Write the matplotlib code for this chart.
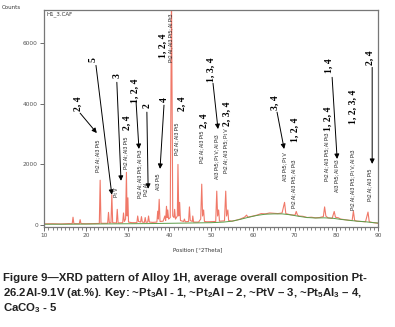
import matplotlib
matplotlib.use('Agg')
import matplotlib.pyplot as plt
from matplotlib.ticker import MultipleLocator

plt.rcParams['mathtext.fontset'] = 'custom'
plt.rcParams['mathtext.rm'] = 'Liberation Sans:bold'
plt.rcParams['mathtext.it'] = 'Liberation Sans:bold:italic'
plt.rcParams['mathtext.bf'] = 'Liberation Sans:bold'

# ---- measured pattern (2theta, counts) ----
two_theta = [10.0, 12.0, 14.0, 16.0, 16.7, 16.9, 17.1, 18.4, 18.6, 18.8, 20.0, 22.0,
             23.2, 23.4, 23.6, 25.2, 25.4, 25.6, 26.0, 26.2, 26.4, 27.3, 27.5, 27.7,
             28.8, 29.0, 29.2, 29.5, 29.7, 29.85, 30.05, 30.2, 31.0, 32.2, 32.4, 32.6,
             33.1, 33.3, 33.5, 34.0, 34.2, 34.4, 34.8, 35.0, 35.2, 36.0, 37.0, 37.2,
             37.35, 37.55, 37.75, 38.5, 38.9, 39.1, 39.3, 39.45, 39.6, 39.8, 40.2, 40.5,
             40.8, 41.1, 41.25, 41.45, 41.9, 42.05, 42.25, 42.45, 42.65, 43.4, 43.6, 43.8,
             44.6, 44.8, 45.0, 45.5, 45.6, 45.8, 47.0, 47.5, 47.75, 47.95, 48.2, 48.4,
             49.0, 51.1, 51.35, 51.55, 51.8, 52.0, 53.2, 53.5, 53.7, 54.0, 54.2, 55.0,
             56.0, 57.0, 58.0, 58.5, 58.8, 60.0, 61.0, 62.0, 63.0, 64.0, 65.0, 66.0,
             67.0, 67.6, 67.9, 68.5, 69.0, 70.1, 70.4, 70.7, 71.0, 72.0, 73.0, 74.0,
             75.0, 76.0, 76.9, 77.2, 77.5, 78.0, 79.0, 79.5, 79.8, 80.5, 81.0, 82.0,
             83.0, 83.8, 84.1, 84.4, 85.0, 86.0, 87.0, 87.6, 87.9, 88.5, 89.5, 90.0]
counts = [40, 45, 38, 50, 45, 260, 50, 45, 180, 50, 45, 50,
          55, 1480, 60, 60, 420, 70, 80, 1000, 80, 70, 520, 70,
          80, 400, 120, 200, 1740, 300, 900, 100, 80, 80, 300, 120,
          100, 280, 100, 90, 250, 90, 100, 300, 100, 90, 100, 460,
          200, 850, 120, 130, 300, 150, 620, 250, 500, 200, 250, 7600,
          300, 250, 520, 200, 300, 2000, 300, 750, 150, 120, 200, 110,
          120, 600, 150, 120, 300, 100, 100, 200, 1350, 300, 500, 120,
          110, 120, 1120, 300, 500, 130, 140, 1120, 300, 500, 150, 130,
          160, 200, 260, 330, 260, 300, 330, 380, 370, 400, 390, 380,
          400, 750, 380, 360, 340, 330, 450, 330, 300, 290, 250, 260,
          240, 250, 280, 600, 300, 240, 220, 450, 260, 240, 200, 180,
          160, 150, 460, 150, 130, 120, 110, 430, 110, 90, 70, 60]

# ---- fitted background ----
bg_theta = [10, 15, 20, 25, 30, 35, 40, 45, 50, 53, 55, 57, 59, 61, 63, 65, 67, 69,
            71, 73, 75, 77, 79, 81, 83, 85, 87, 89, 90]
bg_counts = [30, 30, 35, 40, 45, 50, 60, 70, 80, 100, 130, 190, 260, 320, 360, 370, 370,
             340, 290, 250, 235, 240, 230, 190, 160, 130, 110, 80, 70]

# ---- arrowed labels: text, text position, arrow start, arrow tip ----
arrow_labels = ['2, 4', '5', '3', '1, 2, 4', '2', '4', '1, 3, 4', '3, 4', '1, 4', '2, 4']
arrow_text_xy = [(18.1, 3985), (21.7, 5461), (27.4, 4936), (31.8, 4412), (34.6, 3953),
                 (38.9, 4149), (50.0, 5133), (65.3, 4051), (78.3, 5264), (88.1, 5527)]
arrow_start = [(18.6, 3690), (22.4, 5264), (27.4, 4707), (32.0, 4084), (34.6, 3723),
               (38.7, 3953), (50.45, 4674), (65.8, 3723), (79.0, 4871), (88.6, 5199)]
arrow_tip = [(22.6, 3034), (26.2, 1000), (28.4, 1460), (32.7, 2509), (34.9, 1197),
             (37.75, 1853), (51.65, 3165), (67.5, 2509), (80.2, 2181), (88.6, 2017)]

# ---- plain number labels ----
num_labels = ['2, 4', '1, 2, 4', '2, 4', '2, 4', '2, 3, 4', '1, 2, 4', '1, 2, 4', '1, 2, 3, 4']
num_xy = [(29.9, 3362), (38.5, 5920), (43.0, 3985), (48.3, 3428), (53.8, 3657),
          (70.1, 3132), (78.0, 3493), (84.0, 3887)]

# ---- phase labels ----
phase_labels = ['Pt2 Al; Al3 Pt5', 'Pt V', 'Pt2 Al; Al3 Pt5', 'Pt2 Al; Al3 Pt5; Al Pt3',
                'Pt2 Al', 'Al3 Pt5', 'Pt2 Al; Al3 Pt5; Al Pt3', 'Pt2 Al; Al3 Pt5',
                'Pt2 Al; Al3 Pt5', 'Al3 Pt5; Pt V; Al Pt3', 'Pt2 Al; Al3 Pt5; Pt V',
                'Al3 Pt5; Pt V', 'Pt2 Al; Al3 Pt5; Al Pt3', 'Pt2 Al; Al3 Pt5; Al Pt3',
                'Al3 Pt5; Al Pt3', 'Pt2 Al; Al3 Pt5; Pt V; Al Pt3', 'Pt2 Al; Al3 Pt5']
phase_xy = [(22.9, 2280), (27.4, 1099), (29.6, 2378), (32.95, 1689), (34.4, 1164),
            (37.5, 1427), (40.4, 6183), (41.8, 2837), (47.8, 2575), (51.4, 2247),
            (53.6, 2444), (67.7, 1919), (69.9, 1361), (77.8, 2247), (80.2, 1624),
            (84.0, 1492), (88.1, 1328)]

caption = ['Figure 9\u2014XRD pattern of Alloy 1H, average overall composition Pt-',
           '26.2Al-9.1V (at.%). Key: ~Pt$_3$Al - 1, ~Pt$_2$Al \u2013 2, ~PtV \u2013 3, ~Pt$_5$Al$_3$ \u2013 4,',
           'CaCO$_3$ - 5']

fig = plt.figure(figsize=(3.95, 3.27), dpi=100)
ax = fig.add_axes([0.112, 0.306, 0.845, 0.663])

ax.plot(two_theta, counts, color='#f07868', lw=0.8)
ax.plot(bg_theta, bg_counts, color='#5c9e4a', lw=0.7)

ax.set_xlim(10, 90)
ax.set_ylim(-60, 7085)
ax.xaxis.set_major_locator(MultipleLocator(10))
ax.xaxis.set_minor_locator(MultipleLocator(1))
ax.set_yticks([0, 2000, 4000, 6000])
ax.tick_params(axis='both', which='major', labelsize=4.2, colors='#555555', length=3, width=0.6, pad=1.5)
ax.tick_params(axis='x', which='minor', length=1.8, width=0.5, colors='#555555')
for sp in ax.spines.values():
    sp.set_color('#777777')
    sp.set_linewidth(0.9)

ax.text(0.008, 0.993, 'H1_3.CAF', transform=ax.transAxes, fontsize=4, va='top', ha='left', color='#333333')
fig.text(0.005, 0.985, 'Counts', fontsize=4, va='top', ha='left', color='#333333')
fig.text(0.5, 0.235, 'Position [\u00b02Theta]', fontsize=4, ha='center', va='center', color='#333333')

for lab, txy, s, t in zip(arrow_labels, arrow_text_xy, arrow_start, arrow_tip):
    ax.annotate('', xy=t, xytext=s,
                arrowprops=dict(arrowstyle='-|>', color='black', lw=0.7, mutation_scale=7,
                                shrinkA=0, shrinkB=0))
    ax.text(txy[0], txy[1], lab, rotation=90, ha='center', va='center',
            family='Liberation Serif', fontweight='bold', fontsize=7)

for lab, xy in zip(num_labels, num_xy):
    ax.text(xy[0], xy[1], lab, rotation=90, ha='center', va='center',
            family='Liberation Serif', fontweight='bold', fontsize=7)

for lab, xy in zip(phase_labels, phase_xy):
    ax.text(xy[0], xy[1], lab, rotation=90, ha='center', va='center',
            family='Liberation Sans', fontsize=3.7, color='#222222')

for i, line in enumerate(caption):
    fig.text(3 / 395, 1 - (278 + 15 * i) / 327, line, ha='left', va='center',
             family='Liberation Sans', fontweight='bold', fontsize=8.2, color='#222222')

fig.savefig('out.png', dpi=100)
